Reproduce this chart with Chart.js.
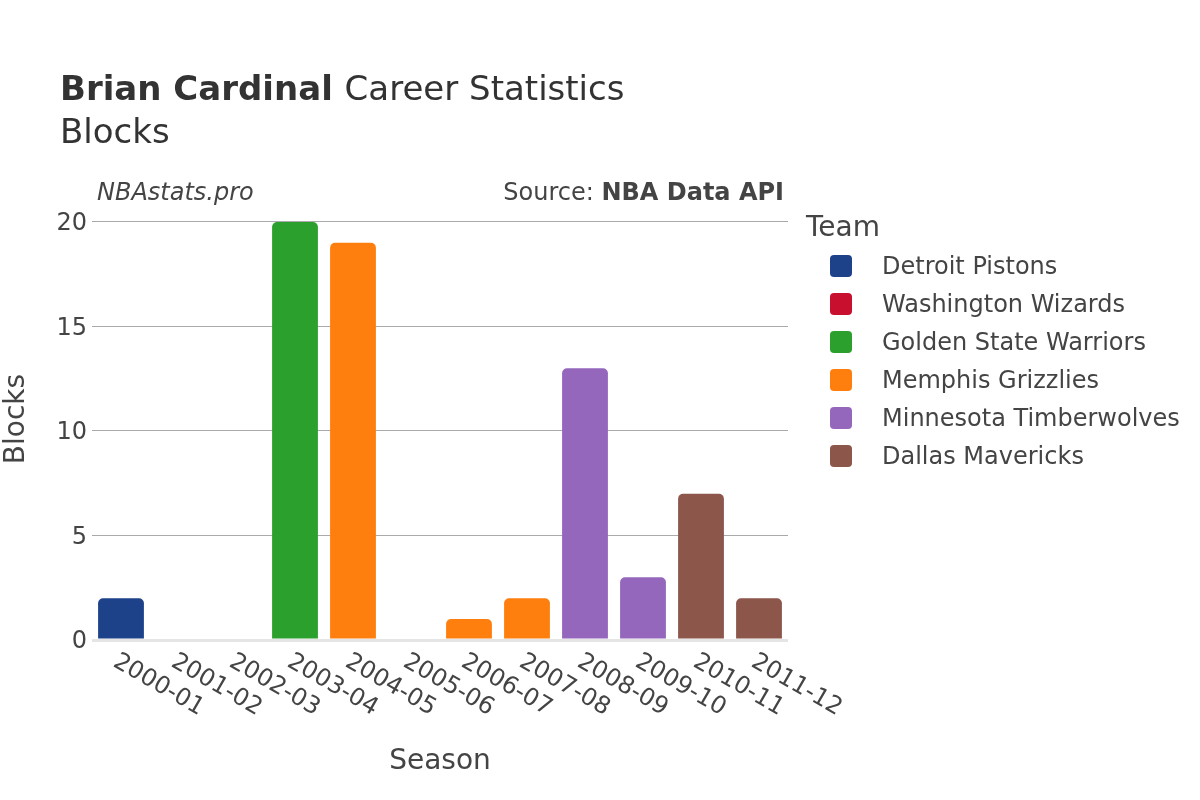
<!DOCTYPE html>
<html>
<head>
<meta charset="utf-8">
<script src="https://cdn.jsdelivr.net/npm/chart.js@4/dist/chart.umd.min.js"></script>
<style>
  html, body { margin: 0; padding: 0; background: #fff; }
  #wrap { width: 1200px; height: 800px; position: relative; }
</style>
</head>
<body>
<div id="wrap"><canvas id="chart" width="1200" height="800"></canvas></div>
<script>
const seasons = ['2000-01', '2001-02', '2002-03', '2003-04', '2004-05', '2005-06',
  '2006-07', '2007-08', '2008-09', '2009-10', '2010-11', '2011-12'];
const seasonTeam = ['Detroit Pistons', 'Washington Wizards', 'Washington Wizards',
  'Golden State Warriors', 'Memphis Grizzlies', 'Memphis Grizzlies', 'Memphis Grizzlies',
  'Memphis Grizzlies', 'Minnesota Timberwolves', 'Minnesota Timberwolves',
  'Dallas Mavericks', 'Dallas Mavericks'];
const blocks = [2, 0, 0, 20, 19, 0, 1, 2, 13, 3, 7, 2];
const teams = ['Detroit Pistons', 'Washington Wizards', 'Golden State Warriors',
  'Memphis Grizzlies', 'Minnesota Timberwolves', 'Dallas Mavericks'];
const teamColors = ['#1d428a', '#c8102e', '#2ca02c', '#ff7f0e', '#9467bd', '#8c564b'];
const yTicks = [0, 5, 10, 15, 20];

const FONT = '"DejaVu Sans", sans-serif';

// one dataset per team, null where the team has no season
const datasets = teams.map((team, ti) => ({
  label: team,
  data: seasons.map((s, i) => (seasonTeam[i] === team ? blocks[i] : null)),
  backgroundColor: teamColors[ti],
  borderWidth: 0,
  borderRadius: 5,
  borderSkipped: 'start',
  barPercentage: 0.79,
  categoryPercentage: 1,
}));

const extras = {
  id: 'extras',
  afterDraw(chart) {
    const ctx = chart.ctx;
    const xs = chart.scales.x;
    ctx.save();

    // title
    ctx.fillStyle = '#333';
    ctx.textBaseline = 'alphabetic';
    ctx.textAlign = 'left';
    ctx.font = 'bold 34px ' + FONT;
    ctx.fillText('Brian Cardinal', 60, 100);
    const bw = ctx.measureText('Brian Cardinal ').width;
    ctx.font = '34px ' + FONT;
    ctx.fillText('Career Statistics', 60 + bw, 100);
    ctx.fillText('Blocks', 60, 143);

    // annotations
    ctx.fillStyle = '#444';
    ctx.textBaseline = 'middle';
    ctx.font = 'italic 24px ' + FONT;
    ctx.fillText('NBAstats.pro', 97, 194);
    ctx.textAlign = 'right';
    ctx.font = 'bold 24px ' + FONT;
    ctx.fillText('NBA Data API', 784, 194);
    const sw = ctx.measureText('NBA Data API').width;
    ctx.font = '24px ' + FONT;
    ctx.fillText('Source: ', 784 - sw, 194);

    // x tick labels, rotated clockwise
    ctx.textAlign = 'left';
    ctx.font = '24px ' + FONT;
    seasons.forEach((s, i) => {
      const x = xs.getPixelForTick(i);
      ctx.save();
      ctx.translate(x - 6, 660);
      ctx.rotate(30 * Math.PI / 180);
      ctx.fillText(s, 0, 0);
      ctx.restore();
    });

    // axis titles
    ctx.textAlign = 'center';
    ctx.font = '28px ' + FONT;
    ctx.fillText('Season', (chart.chartArea.left + chart.chartArea.right) / 2, 762);
    ctx.save();
    ctx.translate(17, 419);
    ctx.rotate(-Math.PI / 2);
    ctx.fillText('Blocks', 0, 0);
    ctx.restore();

    // legend
    ctx.textAlign = 'left';
    ctx.font = '28px ' + FONT;
    ctx.fillText('Team', 806, 229);
    ctx.font = '24px ' + FONT;
    teams.forEach((t, i) => {
      const y = 266 + i * 38;
      ctx.fillStyle = teamColors[i];
      ctx.beginPath();
      ctx.roundRect(830, y - 11, 22, 22, 4);
      ctx.fill();
      ctx.fillStyle = '#444';
      ctx.fillText(t, 882, y + 2);
    });
    ctx.restore();
  },
};

new Chart(document.getElementById('chart'), {
  type: 'bar',
  data: { labels: seasons, datasets },
  plugins: [extras],
  options: {
    responsive: false,
    animation: false,
    layout: { padding: { left: 0, top: 200, right: 412, bottom: 0 } },
    plugins: { legend: { display: false }, tooltip: { enabled: false } },
    scales: {
      x: {
        stacked: true,
        grid: { display: false },
        border: { display: false },
        ticks: { display: false },
        afterFit: (s) => { s.height = 160; },
      },
      y: {
        stacked: true,
        min: 0,
        max: 21.05,
        afterBuildTicks: (s) => { s.ticks = yTicks.map((v) => ({ value: v })); },
        afterFit: (s) => { s.width = 92; },
        border: { display: false },
        grid: {
          drawTicks: false,
          color: (c) => (c.tick && c.tick.value === 0 ? '#e5e5e5' : '#aaa'),
          lineWidth: (c) => (c.tick && c.tick.value === 0 ? 3 : 1),
        },
        ticks: { padding: 5, labelOffset: 2, color: '#444', font: { family: FONT, size: 24 } },
      },
    },
  },
});
</script>
</body>
</html>
